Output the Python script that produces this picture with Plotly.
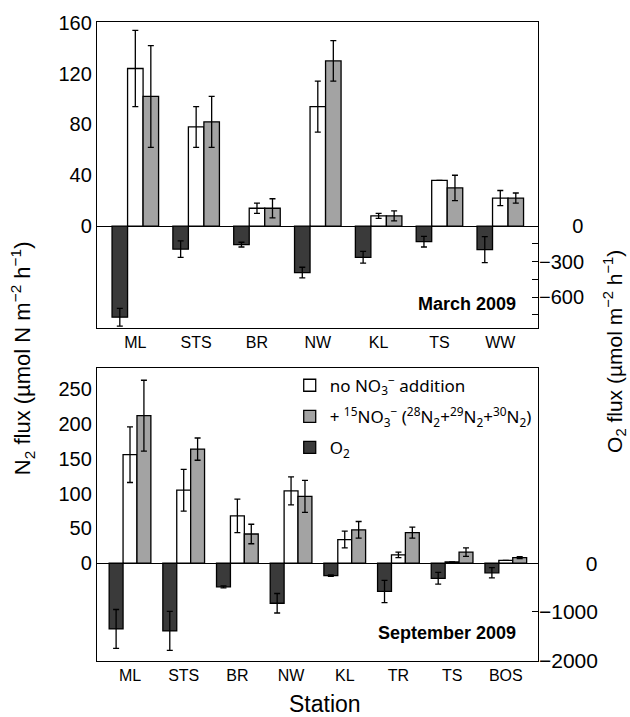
import plotly.graph_objects as go

# ---------------- data ----------------
stations_mar = ["ML", "STS", "BR", "NW", "KL", "TS", "WW"]
mar_no_no3 = [124, 78, 14, 94, 8, 36, 22]
mar_no_no3_err = [30, 16, 4, 20, 2, 0, 6]
mar_15no3 = [102, 82, 14, 130, 8, 30, 22]
mar_15no3_err = [40, 20, 7.5, 16, 4, 10, 4]
mar_o2 = [-770, -195, -157, -393, -264, -132, -199]
mar_o2_err = [75, 70, 20, 45, 50, 45, 110]

stations_sep = ["ML", "STS", "BR", "NW", "KL", "TR", "TS", "BOS"]
sep_no_no3 = [156, 105, 68, 104, 34, 12, 2, 4]
sep_no_no3_err = [40, 30, 24, 20, 12, 4, 0, 0]
sep_15no3 = [212, 164, 42, 96, 48, 44, 16, 8]
sep_15no3_err = [51, 16, 14, 23, 12, 8, 6, 1.5]
sep_o2 = [-1350, -1390, -485, -822, -256, -580, -309, -196]
sep_o2_err = [400, 400, 20, 200, 15, 230, 120, 105]

mar_left_ticks = [0, 40, 80, 120, 160]
mar_right_ticks = [0, -150, -300, -450, -600, -750]
mar_right_text = ["\u2007\u2007\u20070", "", "\u2212300", "", "\u2212600", ""]
sep_left_ticks = [0, 50, 100, 150, 200, 250]
sep_right_ticks = [0, -1000, -2000]
sep_right_text = ["\u2007\u2007\u2007\u20070", "\u22121000", "\u22122000"]

# ---------------- style ----------------
WHITE = "#ffffff"
GRAY = "#a3a3a3"
DARK = "#3a3a3a"
LINE = dict(color="black", width=1.3)
FONT = "Liberation Sans, Arial, sans-serif"


def err(vals):
    return dict(type="data", array=vals, visible=True, color="black",
                thickness=1.3, width=3)


fig = go.Figure()

# top panel
w1 = 0.255
fig.add_trace(go.Bar(x=stations_mar, y=mar_o2, error_y=err(mar_o2_err),
                     width=w1, offset=-1.5 * w1, marker=dict(color=DARK, line=LINE),
                     xaxis="x", yaxis="y2", showlegend=False))
fig.add_trace(go.Bar(x=stations_mar, y=mar_no_no3, error_y=err(mar_no_no3_err),
                     width=w1, offset=-0.5 * w1, marker=dict(color=WHITE, line=LINE),
                     xaxis="x", yaxis="y", showlegend=False))
fig.add_trace(go.Bar(x=stations_mar, y=mar_15no3, error_y=err(mar_15no3_err),
                     width=w1, offset=0.5 * w1, marker=dict(color=GRAY, line=LINE),
                     xaxis="x", yaxis="y", showlegend=False))

# bottom panel
w2 = 0.259
fig.add_trace(go.Bar(x=stations_sep, y=sep_no_no3, error_y=err(sep_no_no3_err),
                     width=w2, offset=-0.5 * w2, marker=dict(color=WHITE, line=LINE),
                     xaxis="x2", yaxis="y3", legendgroup="a",
                     name="no NO<sub>3</sub><sup>\u2212</sup> addition"))
fig.add_trace(go.Bar(x=stations_sep, y=sep_15no3, error_y=err(sep_15no3_err),
                     width=w2, offset=0.5 * w2, marker=dict(color=GRAY, line=LINE),
                     xaxis="x2", yaxis="y3", legendgroup="b",
                     name="+ <sup>15</sup>NO<sub>3</sub><sup>\u2212</sup> (<sup>28</sup>N<sub>2</sub>+<sup>29</sup>N<sub>2</sub>+<sup>30</sup>N<sub>2</sub>)"))
fig.add_trace(go.Bar(x=stations_sep, y=sep_o2, error_y=err(sep_o2_err),
                     width=w2, offset=-1.5 * w2, marker=dict(color=DARK, line=LINE),
                     xaxis="x2", yaxis="y4", legendgroup="c",
                     name="O<sub>2</sub>"))

axis_common = dict(showline=True, linecolor="black", linewidth=1.3,
                   showgrid=False, ticks="")
zl = dict(zeroline=True, zerolinecolor="black", zerolinewidth=1.3)

fig.update_layout(
    width=630, height=717,
    margin=dict(l=97, r=92, t=16, b=56),
    paper_bgcolor="white", plot_bgcolor="white",
    barmode="overlay",
    font=dict(family=FONT, color="black", size=18),
    xaxis=dict(**axis_common, zeroline=False, anchor="y", domain=[0, 1], mirror=True,
               type="category", range=[-0.63, 6.62],
               tickfont=dict(size=16)),
    yaxis=dict(**axis_common, **zl, anchor="x", domain=[0.521, 1], mirror=True,
               range=[-80.3, 160.6], tickvals=mar_left_ticks,
               tickfont=dict(size=20)),
    yaxis2=dict(showline=False, showgrid=False, zeroline=False,
                overlaying="y", side="right", anchor="x",
                range=[-862, 1724], tickvals=mar_right_ticks,
                ticktext=mar_right_text, ticks="inside", ticklen=6,
                tickcolor="black", tickwidth=1.2, tickfont=dict(size=20)),
    xaxis2=dict(**axis_common, zeroline=False, anchor="y3", domain=[0, 1], mirror=True,
                type="category", range=[-0.615, 7.6],
                tickfont=dict(size=16)),
    yaxis3=dict(**axis_common, **zl, anchor="x2", domain=[0, 0.459], mirror=True,
                range=[-140.5, 281], tickvals=sep_left_ticks,
                tickfont=dict(size=20)),
    yaxis4=dict(showline=False, showgrid=False, zeroline=False,
                overlaying="y3", side="right", anchor="x2",
                range=[-2008, 4016], tickvals=sep_right_ticks,
                ticktext=sep_right_text, ticks="inside", ticklen=6,
                tickcolor="black", tickwidth=1.2, tickfont=dict(size=21)),
    legend=dict(x=0.437, y=0.459, xanchor="left", yanchor="top",
                bgcolor="rgba(0,0,0,0)", tracegroupgap=6,
                font=dict(family="Noto Sans, sans-serif", size=17)),
)

annotations = [
    dict(text="<b>March 2009</b>", x=0.955, y=0.5585, xref="paper", yref="paper",
         xanchor="right", yanchor="middle", showarrow=False, font=dict(size=18)),
    dict(text="<b>September 2009</b>", x=0.955, y=0.0434, xref="paper", yref="paper",
         xanchor="right", yanchor="middle", showarrow=False, font=dict(size=18)),
    dict(text="N<sub>2</sub> flux (\u00b5mol N m<sup>\u22122</sup> h<sup>\u22121</sup>)",
         x=-0.170, y=0.474, xref="paper", yref="paper", textangle=-90,
         xanchor="center", yanchor="middle", showarrow=False, font=dict(size=22)),
    dict(text="O<sub>2</sub> flux (\u00b5mol m<sup>\u22122</sup> h<sup>\u22121</sup>)",
         x=1.172, y=0.485, xref="paper", yref="paper", textangle=-90,
         xanchor="center", yanchor="middle", showarrow=False, font=dict(size=21)),
    dict(text="Station", x=0.517, y=-0.068, xref="paper", yref="paper",
         xanchor="center", yanchor="middle", showarrow=False, font=dict(size=23)),
]
fig.update_layout(annotations=annotations)

fig.write_html("out.html")
